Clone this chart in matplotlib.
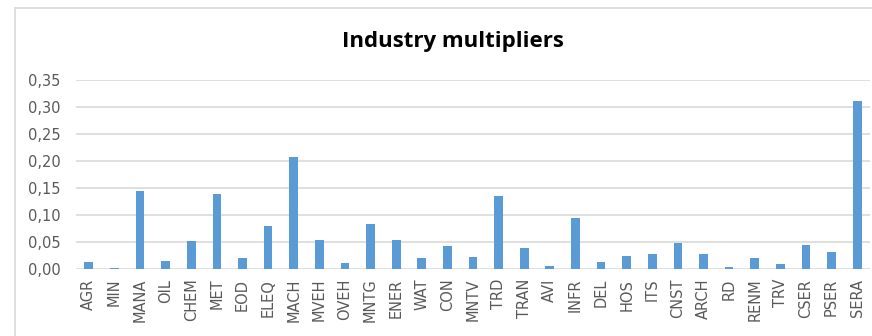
import numpy as np
import matplotlib.pyplot as plt
from matplotlib.patches import Rectangle
from matplotlib.ticker import FuncFormatter, MultipleLocator

# Sectors and their multipliers
sectors = ['AGR', 'MIN', 'MANA', 'OIL', 'CHEM', 'MET', 'EOD', 'ELEQ', 'MACH',
           'MVEH', 'OVEH', 'MNTG', 'ENER', 'WAT', 'CON', 'MNTV', 'TRD', 'TRAN',
           'AVI', 'INFR', 'DEL', 'HOS', 'ITS', 'CNST', 'ARCH', 'RD', 'RENM',
           'TRV', 'CSER', 'PSER', 'SERA']
multipliers = [0.013, 0.002, 0.145, 0.015, 0.052, 0.139, 0.020, 0.079, 0.208,
               0.054, 0.011, 0.084, 0.054, 0.020, 0.043, 0.023, 0.136, 0.039,
               0.006, 0.094, 0.013, 0.025, 0.027, 0.049, 0.027, 0.004, 0.021,
               0.010, 0.045, 0.032, 0.312]

plt.rcParams['font.family'] = ['DejaVu Sans']

fig = plt.figure(figsize=(8.72, 3.36), dpi=100)
W, H = 872, 336

# chart frame (left and top edges visible)
fig.patches.append(Rectangle((15 / W, -0.1), 1.1, (H - 8) / H + 0.1,
                             transform=fig.transFigure, fill=False,
                             edgecolor='#d9d9d9', linewidth=1.2))

ax = fig.add_axes([76 / W, (H - 269) / H, (870 - 76) / W, (269 - 80) / H])

x = np.arange(len(sectors))
ax.bar(x, multipliers, width=0.34, color='#5b9bd5', zorder=3)

ax.set_xlim(-0.5, len(sectors) - 0.5)
ax.set_ylim(0, 0.35)
ax.yaxis.set_major_locator(MultipleLocator(0.05))
ax.yaxis.set_major_formatter(FuncFormatter(lambda v, p: f'{v:.2f}'.replace('.', ',')))
ax.set_xticks(x)
ax.set_xticklabels(sectors, rotation=90)
ax.tick_params(axis='both', length=0, labelsize=10.5, labelcolor='#595959')
ax.tick_params(axis='y', pad=11)
ax.tick_params(axis='x', pad=7)

ax.grid(axis='y', color='#d9d9d9', linewidth=1.2, zorder=0)
for s in ax.spines.values():
    s.set_visible(False)

fig.text(453 / W, (H - 42) / H, 'Industry multipliers', ha='center', va='center',
         fontsize=16, fontweight='bold', color='#000000', family='Open Sans')

fig.savefig('out.png', dpi=100)
